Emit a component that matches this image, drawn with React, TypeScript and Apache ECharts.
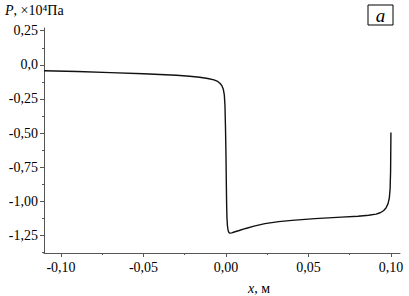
import React, { useEffect, useRef } from "react";
import * as echarts from "echarts";

const xValues = [-0.1103, -0.09, -0.07, -0.05, -0.04, -0.03, -0.022, -0.016, -0.011, -0.0073, -0.005, -0.0035, -0.0024, -0.0016, -0.001, -0.0006, -0.0003, 0.0, 0.0002, 0.0004, 0.0006, 0.0009, 0.0013, 0.0018, 0.0024, 0.0035, 0.005, 0.008, 0.012, 0.017, 0.0236, 0.032, 0.04, 0.0539, 0.07, 0.08, 0.0865, 0.091, 0.0935, 0.0955, 0.097, 0.0982, 0.099, 0.0995, 0.0998, 0.1];
const pValues = [-0.044, -0.049, -0.057, -0.066, -0.071, -0.077, -0.084, -0.091, -0.1, -0.11, -0.122, -0.137, -0.155, -0.18, -0.22, -0.3, -0.45, -0.65, -0.85, -1.02, -1.12, -1.18, -1.215, -1.23, -1.234, -1.232, -1.226, -1.215, -1.2, -1.183, -1.165, -1.15, -1.141, -1.128, -1.117, -1.11, -1.103, -1.095, -1.085, -1.07, -1.05, -1.02, -0.98, -0.91, -0.78, -0.497];

const xMajor = [-0.1, -0.05, 0, 0.05, 0.1];
const xMinor = [-0.075, -0.025, 0.025, 0.075];
const yMajor = [0.25, 0, -0.25, -0.5, -0.75, -1.0, -1.25];
const yMinor = [0.125, -0.125, -0.375, -0.625, -0.875, -1.125, -1.375];

const FONT = "Liberation Serif";
const AXIS_COLOR = "#555";

export default function App() {
  const ref = useRef<HTMLDivElement>(null);
  useEffect(() => {
    if (!ref.current) return;
    const chart = echarts.init(ref.current, null, { renderer: "svg" });
    const xMin = -0.1103, xMax = 0.1055, yMin = -1.38, yMax = 0.27;
    const fmtX = (v: number) => v.toFixed(2).replace(".", ",");
    const fmtY = (v: number) => (Math.abs(v) < 1e-9 ? "0,0" : v.toFixed(2).replace(".", ","));
    const baseX = {
      type: "value" as const,
      min: xMin,
      max: xMax,
      position: "bottom" as const,
      splitLine: { show: false },
    };
    const baseY = {
      type: "value" as const,
      min: yMin,
      max: yMax,
      position: "left" as const,
      splitLine: { show: false },
    };
    chart.setOption({
      animation: false,
      textStyle: { fontFamily: FONT },
      grid: { left: 44, right: 9, top: 28, bottom: 43 },
      xAxis: [
        {
          ...baseX,
          axisLine: { show: true, onZero: false, lineStyle: { color: AXIS_COLOR, width: 1 } },
          axisTick: { show: true, customValues: xMajor, length: 4, lineStyle: { color: AXIS_COLOR } },
          axisLabel: {
            customValues: xMajor,
            formatter: fmtX,
            color: "#000",
            fontFamily: FONT,
            fontSize: 14,
            margin: 7,
          },
        },
        {
          ...baseX,
          axisLine: { show: false, onZero: false },
          axisTick: { show: true, customValues: xMinor, length: 2, lineStyle: { color: AXIS_COLOR } },
          axisLabel: { show: false },
        },
      ],
      yAxis: [
        {
          ...baseY,
          axisLine: { show: true, onZero: false, lineStyle: { color: AXIS_COLOR, width: 1 } },
          axisTick: { show: true, customValues: yMajor, length: 4, lineStyle: { color: AXIS_COLOR } },
          axisLabel: {
            customValues: yMajor,
            formatter: fmtY,
            color: "#000",
            fontFamily: FONT,
            fontSize: 14,
            margin: 6,
          },
        },
        {
          ...baseY,
          axisLine: { show: false, onZero: false },
          axisTick: { show: true, customValues: yMinor.filter((v) => v >= yMin && v <= yMax), length: 2, lineStyle: { color: AXIS_COLOR } },
          axisLabel: { show: false },
        },
      ],
      graphic: [
        {
          type: "text",
          left: 5,
          top: 3,
          style: {
            text: "{i|P}, ×10⁴Па",
            fontFamily: FONT,
            fontSize: 14,
            fill: "#000",
            rich: { i: { fontStyle: "italic", fontFamily: FONT, fontSize: 14 } },
          },
        },
        {
          type: "rect",
          shape: { x: 368, y: 5, width: 25, height: 20 },
          style: { fill: "#fff", stroke: "#000", lineWidth: 1 },
        },
        {
          type: "text",
          x: 380.5,
          y: 15,
          style: {
            text: "a",
            fontFamily: FONT,
            fontStyle: "italic",
            fontSize: 19,
            fill: "#000",
            align: "center",
            verticalAlign: "middle",
          },
        },
        {
          type: "text",
          x: 259,
          y: 288,
          style: {
            text: "{i|x}, м",
            fontFamily: FONT,
            fontSize: 14,
            fill: "#000",
            align: "center",
            verticalAlign: "middle",
            rich: { i: { fontStyle: "italic", fontFamily: FONT, fontSize: 14 } },
          },
        },
      ],
      series: [
        {
          type: "line",
          xAxisIndex: 0,
          yAxisIndex: 0,
          data: xValues.map((x, i) => [x, pValues[i]]),
          showSymbol: false,
          smooth: false,
          lineStyle: { color: "#111", width: 1.4 },
        },
      ],
    });
    return () => chart.dispose();
  }, []);
  return <div ref={ref} style={{ width: 409, height: 296, position: "absolute", left: 0, top: 0, background: "#fff" }} />;
}
